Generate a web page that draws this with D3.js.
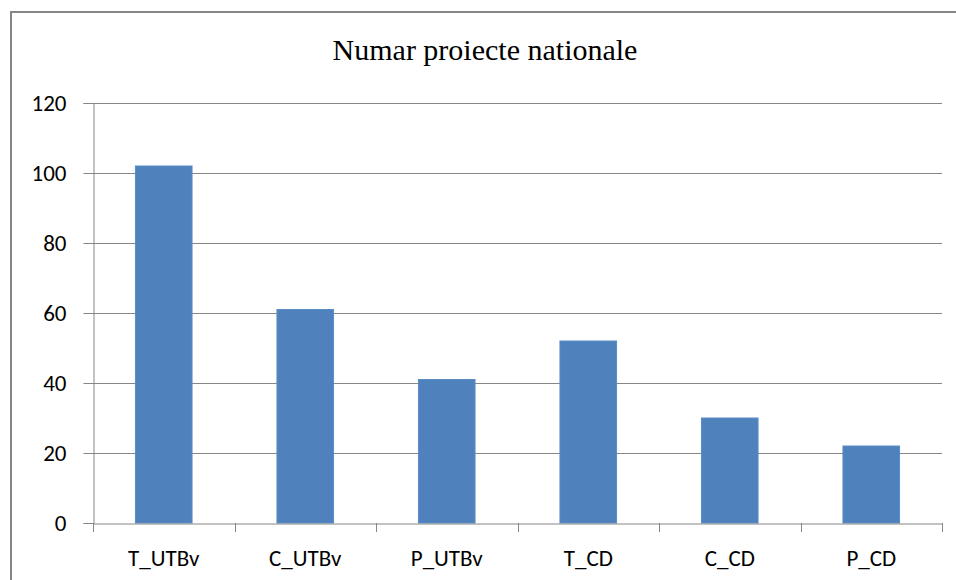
<!DOCTYPE html>
<html>
<head>
<meta charset="utf-8">
<script src="https://cdn.jsdelivr.net/npm/d3@7"></script>
<style>
  body { margin: 0; background: #fff; }
  .axisText { font-family: Carlito, Lato, "Open Sans", sans-serif; font-size: 23px; fill: #000; }
</style>
</head>
<body>
<div id="chart"></div>
<script>
var categories = ["T_UTBv", "C_UTBv", "P_UTBv", "T_CD", "C_CD", "P_CD"];
var values = [102, 61, 41, 52, 30, 22];
var yTicks = [0, 20, 40, 60, 80, 100, 120];
var title = "Numar proiecte nationale";

var svgWidth = 956;
var svgHeight = 580;

var margin = { top: 103, right: 14, bottom: 57, left: 93 };
var width = svgWidth - margin.left - margin.right;
var height = svgHeight - margin.top - margin.bottom;

var svg = d3.select("#chart")
  .append("svg")
  .attr("width", svgWidth)
  .attr("height", svgHeight);

// outer frame (cut off at right and bottom)
svg.append("path")
  .attr("d", "M11,590 V12 H970")
  .attr("fill", "none")
  .attr("stroke", "#868686")
  .attr("stroke-width", 2);

svg.append("text")
  .attr("x", 485)
  .attr("y", 60)
  .attr("text-anchor", "middle")
  .attr("font-family", "'Liberation Serif', 'Times New Roman', serif")
  .attr("font-size", "30px")
  .text(title);

var chartGroup = svg.append("g")
  .attr("transform", `translate(${margin.left}, ${margin.top})`);

var xScale = d3.scaleBand()
  .domain(categories)
  .range([0, width])
  .paddingInner(0.6)
  .paddingOuter(0.3);

var xBand = d3.scaleBand()
  .domain(categories)
  .range([0, width]);

var yScale = d3.scaleLinear()
  .domain([0, 120])
  .range([height, 0]);

// gridlines
chartGroup.selectAll(".grid").data(yTicks.filter(d => d > 0)).enter()
  .append("line")
  .attr("x1", 0)
  .attr("x2", width)
  .attr("y1", d => Math.round(yScale(d)) + 0.5)
  .attr("y2", d => Math.round(yScale(d)) + 0.5)
  .attr("stroke", "#868686")
  .attr("stroke-width", 1);

// bars
chartGroup.selectAll("rect.bar").data(values).enter()
  .append("rect")
  .attr("class", "bar")
  .attr("x", (d, i) => xScale(categories[i]))
  .attr("y", d => yScale(d))
  .attr("width", xScale.bandwidth())
  .attr("height", d => height - yScale(d))
  .attr("fill", "#4F81BD")
  .attr("stroke", "#5b8cc6")
  .attr("stroke-width", 1);

// y axis
var leftAxis = d3.axisLeft(yScale).tickValues(yTicks).tickSize(10).tickPadding(17);
var yAxisG = chartGroup.append("g")
  .attr("transform", "translate(0.5,0)")
  .call(leftAxis);
yAxisG.select(".domain").attr("stroke", "#868686");
yAxisG.selectAll(".tick line").attr("stroke", "#868686");
yAxisG.selectAll(".tick text").attr("class", "axisText").attr("font-size", null).attr("font-family", null);

// x axis
var bottomAxis = d3.axisBottom(xBand).tickSize(0).tickPadding(26);
var xAxisG = chartGroup.append("g")
  .attr("transform", `translate(0, ${height + 0.5})`)
  .call(bottomAxis);
xAxisG.select(".domain").attr("stroke", "#868686");
xAxisG.selectAll(".tick text").attr("class", "axisText").attr("font-size", null).attr("font-family", null);

// category separator ticks
var sep = d3.range(categories.length + 1).map(i => i * xBand.step());
chartGroup.selectAll(".sep").data(sep).enter()
  .append("line")
  .attr("x1", d => Math.round(d) + 0.5)
  .attr("x2", d => Math.round(d) + 0.5)
  .attr("y1", height)
  .attr("y2", height + 9)
  .attr("stroke", "#868686");
</script>
</body>
</html>
